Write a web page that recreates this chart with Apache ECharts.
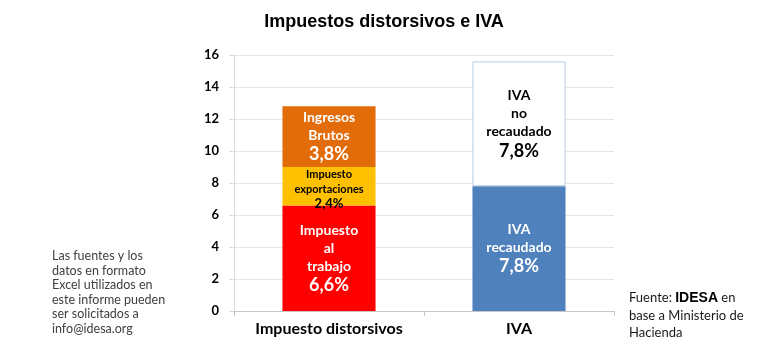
<!DOCTYPE html>
<html><head><meta charset="utf-8">
<script src="https://cdn.jsdelivr.net/npm/echarts@6/dist/echarts.min.js"></script>
<style>html,body{margin:0;padding:0;background:#fff}#c{width:768px;height:360px}</style>
</head><body><div id="c"></div>
<script>
var categories = ['Impuesto distorsivos', 'IVA'];
var trabajo = [6.6, '-'];
var exportaciones = [2.4, '-'];
var brutos = [3.8, '-'];
var ivaRecaudado = ['-', 7.8];
var ivaNoRecaudado = ['-', 7.8];
var yTicks = [0, 2, 4, 6, 8, 10, 12, 14, 16];

var chart = echarts.init(document.getElementById('c'));
var F = 'Lato, "Open Sans", sans-serif';
function lbl(lines, pct, color, s1, s2, off) {
  return {
    show: true, position: 'inside', offset: off || [0, 0],
    formatter: function (p) {
      if (p.value === '-' ) return '';
      return lines.map(function (l) { return '{a|' + l + '}'; }).join('\n') + '\n{b|' + pct + '}';
    },
    rich: {
      a: { fontFamily: F, fontWeight: 'bold', fontSize: s1, color: color, lineHeight: s1 + 4 },
      b: { fontFamily: F, fontWeight: 'bold', fontSize: s2, color: color, lineHeight: s2 + 2 }
    }
  };
}
var bw = '49%';
chart.setOption({
  animation: false,
  title: {
    text: 'Impuestos distorsivos e IVA', left: 'center', top: 8,
    textStyle: { fontFamily: '"Liberation Sans", Arial, sans-serif', fontWeight: 'bold', fontSize: 18, color: '#000' }
  },
  grid: { left: 234, right: 154, top: 55, bottom: 49 },
  xAxis: {
    type: 'category', data: categories,
    axisLine: { lineStyle: { color: '#c8c8c8' } },
    axisTick: { show: true, length: 5, lineStyle: { color: '#c8c8c8' } },
    axisLabel: { interval: 0, fontFamily: F, fontWeight: 'bold', fontSize: 16, color: '#000', margin: 10 }
  },
  yAxis: {
    type: 'value', min: yTicks[0], max: yTicks[yTicks.length - 1], interval: 2,
    axisLine: { show: true, lineStyle: { color: '#dcdcdc' } },
    axisTick: { show: true, length: 5, lineStyle: { color: '#dcdcdc' } },
    axisLabel: { fontFamily: F, fontWeight: 'bold', fontSize: 13, color: '#000', margin: 15 },
    splitLine: { lineStyle: { color: '#e6e6e6' } }
  },
  series: [
    { name: 'Impuesto al trabajo', type: 'bar', stack: 's', barWidth: bw, data: trabajo,
      itemStyle: { color: '#ff0000' },
      label: lbl(['Impuesto', 'al', 'trabajo'], '6,6%', '#fff', 14, 18) },
    { name: 'Impuesto exportaciones', type: 'bar', stack: 's', barWidth: bw, data: exportaciones,
      itemStyle: { color: '#ffc000' },
      label: lbl(['Impuesto', 'exportaciones'], '2,4%', '#000', 11, 13, [0, 3]) },
    { name: 'Ingresos Brutos', type: 'bar', stack: 's', barWidth: bw, data: brutos,
      itemStyle: { color: '#e36c0a' },
      label: lbl(['Ingresos', 'Brutos'], '3,8%', '#fff', 14, 18) },
    { name: 'IVA recaudado', type: 'bar', stack: 's', barWidth: bw, data: ivaRecaudado,
      itemStyle: { color: '#4f81bd' },
      label: lbl(['IVA', 'recaudado'], '7,8%', '#fff', 14, 18) },
    { name: 'IVA no recaudado', type: 'bar', stack: 's', barWidth: bw, data: ivaNoRecaudado,
      itemStyle: { color: '#ffffff', borderColor: '#b8cce4', borderWidth: 1 },
      label: lbl(['IVA', 'no', 'recaudado'], '7,8%', '#000', 14, 18) }
  ],
  graphic: [
    { type: 'text', left: 52, top: 249,
      style: { text: 'Las fuentes y los\ndatos en formato\nExcel utilizados en\neste informe pueden\nser solicitados a\ninfo@idesa.org',
        font: '12.5px ' + F, fill: '#404040', lineHeight: 14.5 } },
    { type: 'text', left: 629, top: 291,
      style: { text: '{n|Fuente: }{b|IDESA}{n| en}\n{n|base a Ministerio de}\n{n|Hacienda}',
        rich: {
          n: { fontFamily: F, fontSize: 13, fill: '#1a1a1a', lineHeight: 17.5 },
          b: { fontFamily: '"Liberation Sans", Arial, sans-serif', fontWeight: 'bold', fontSize: 14, fill: '#000', lineHeight: 17.5 }
        } } }
  ]
});
</script>
</body></html>
